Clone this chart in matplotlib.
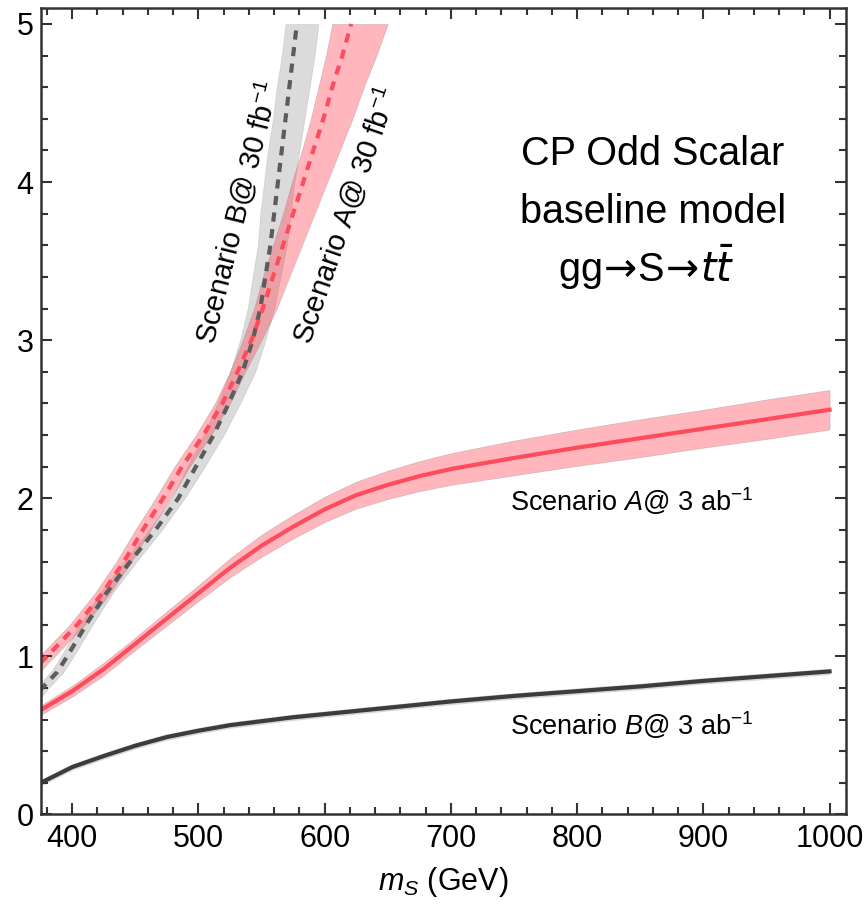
import matplotlib
matplotlib.use('Agg')
import matplotlib.pyplot as plt
import matplotlib.ticker as ticker
import numpy as np

plt.rcParams['font.family'] = ['Liberation Sans', 'DejaVu Sans']
plt.rcParams['mathtext.fontset'] = 'custom'
plt.rcParams['mathtext.rm'] = 'Liberation Sans'
plt.rcParams['mathtext.it'] = 'Liberation Sans:italic'
plt.rcParams['mathtext.bf'] = 'Liberation Sans:bold'

# --- 3 ab^-1 curves: coupling reach vs mass ---
ms_3ab = [375, 400, 425, 450, 475, 500, 525, 550, 575, 600, 625, 650, 675, 700, 750, 800, 850, 900, 950, 1000]
scenA_3ab = [0.66, 0.78, 0.92, 1.08, 1.24, 1.40, 1.56, 1.70, 1.82, 1.93, 2.02, 2.085, 2.14, 2.185, 2.255, 2.32, 2.38, 2.44, 2.50, 2.56]
scenA_3ab_err = [0.03, 0.035, 0.04, 0.04, 0.045, 0.05, 0.06, 0.07, 0.075, 0.08, 0.085, 0.09, 0.095, 0.10, 0.11, 0.115, 0.12, 0.12, 0.125, 0.125]
scenB_3ab = [0.20, 0.30, 0.37, 0.435, 0.49, 0.53, 0.565, 0.59, 0.615, 0.635, 0.655, 0.675, 0.695, 0.715, 0.75, 0.78, 0.81, 0.845, 0.875, 0.905]
scenB_3ab_err = [0.02] * len(ms_3ab)

# --- 30 fb^-1 curves: mass reach at a given coupling ---
g_A30 = [0.88, 0.96, 1.0, 1.2, 1.4, 1.6, 1.8, 2.0, 2.2, 2.4, 2.6, 2.8, 3.0, 3.2, 3.4, 3.6, 3.8, 4.0, 4.2, 4.4, 4.6, 4.8, 5.0]
ms_A30 = [366, 375, 380, 404, 424, 441, 456, 472, 487, 504, 519, 531, 542, 551, 559, 567, 575, 583, 591, 599, 606, 614, 621]
A30_lo = [6, 6, 6, 6, 6, 6, 6, 6, 6, 6, 6, 6, 7, 7, 8, 8, 8, 9, 9, 10, 11, 13, 15]
A30_hi = [6, 6, 6, 6, 6, 6, 6, 6, 6, 6, 6, 6, 8, 11, 13, 15, 17, 19, 21, 23, 25, 27, 29]

g_B30 = [0.70, 0.79, 0.9, 1.0, 1.2, 1.4, 1.6, 1.8, 2.0, 2.2, 2.4, 2.6, 2.8, 3.0, 3.2, 3.4, 3.6, 3.8, 4.0, 4.2, 4.4, 4.6, 4.8, 5.0]
ms_B30 = [366, 375, 388, 396, 411, 427, 446, 466, 484, 498, 512, 524, 535, 543, 549, 553, 557, 560, 563, 566, 569, 572, 575, 578]
B30_lo = [5, 5, 5, 5, 5, 5, 5, 5, 5, 7, 8, 9, 10, 10, 10, 10, 10, 11, 11, 11, 10, 10, 9, 9]
B30_hi = [5, 5, 5, 5, 5, 5, 5, 5, 5, 7, 8, 9, 10, 10, 11, 12, 13, 13, 13, 14, 15, 16, 17, 17]

red_line = '#ff4c5c'
red_fill = (1.0, 0.25, 0.32)
grey_fill = '#7f7f7f'
grey_dash = '#5c5c5c'
dark_line = '#3c3c3c'

fig, ax = plt.subplots(figsize=(8.65, 9.06), dpi=100)
fig.subplots_adjust(left=0.047, right=0.978, bottom=0.101, top=0.991)

ms = np.array(ms_3ab)

# bands
a3 = np.array(scenA_3ab); a3e = np.array(scenA_3ab_err)
b3 = np.array(scenB_3ab); b3e = np.array(scenB_3ab_err)
ax.fill_between(ms, b3 - b3e, b3 + b3e, color='#bdbdbd', alpha=0.6, lw=0)
ax.fill_between(ms, a3 - a3e, a3 + a3e, facecolor=red_fill, alpha=0.38, edgecolor='#888888', lw=0.5)

xb = np.array(ms_B30)
ax.fill_betweenx(g_B30, xb - np.array(B30_lo), xb + np.array(B30_hi),
                 facecolor=grey_fill, alpha=0.28, edgecolor='#888888', lw=0.5)
xa = np.array(ms_A30)
ax.fill_betweenx(g_A30, xa - np.array(A30_lo), xa + np.array(A30_hi),
                 facecolor=red_fill, alpha=0.38, edgecolor='#888888', lw=0.5)

# central lines
ax.plot(ms, b3, color=dark_line, lw=3)
ax.plot(ms, a3, color=red_line, lw=3)
ax.plot(ms_B30, g_B30, color=grey_dash, lw=3, dashes=(2.2, 1.8))
ax.plot(ms_A30, g_A30, color=red_line, lw=3, dashes=(2.2, 1.8))

ax.set_xlim(375, 1013)
ax.set_ylim(0, 5.1)

ax.xaxis.set_major_locator(ticker.MultipleLocator(100))
ax.xaxis.set_minor_locator(ticker.MultipleLocator(20))
ax.yaxis.set_major_locator(ticker.MultipleLocator(1))
ax.yaxis.set_minor_locator(ticker.MultipleLocator(0.2))
ax.tick_params(which='both', direction='in', top=True, right=True, color='#333333', width=1.5)
ax.tick_params(which='major', length=8, labelsize=22)
ax.tick_params(which='minor', length=5)
ax.tick_params(axis='x', which='major', pad=7)
ax.tick_params(axis='y', which='major', pad=5)
for sp in ax.spines.values():
    sp.set_linewidth(1.8)
    sp.set_color('#333333')

ax.set_xlabel('$m_S$ (GeV)', fontsize=22, labelpad=8)

# annotations
ax.text(860, 4.11, 'CP Odd Scalar', fontsize=28.5, ha='center', va='baseline')
ax.text(860, 3.74, 'baseline model', fontsize=28.5, ha='center', va='baseline')
ax.text(855, 3.37, r'gg$\!\rightarrow\!$S$\!\rightarrow\!$$t\bar{t}$', fontsize=28.5, ha='center',
        va='baseline', math_fontfamily='dejavusans')

ax.text(747, 1.92, r'Scenario $A$@ 3 ab$^{-1}$', fontsize=19.5, ha='left', va='baseline')
ax.text(747, 0.50, r'Scenario $B$@ 3 ab$^{-1}$', fontsize=19.5, ha='left', va='baseline')

ax.text(531, 3.81, r'Scenario B@ 30 fb$^{-1}$', fontsize=21, rotation=76,
        rotation_mode='anchor', ha='center', va='center')
ax.text(616, 3.79, r'Scenario A@ 30 fb$^{-1}$', fontsize=21, rotation=71,
        rotation_mode='anchor', ha='center', va='center')

plt.savefig('out.png', dpi=100)
